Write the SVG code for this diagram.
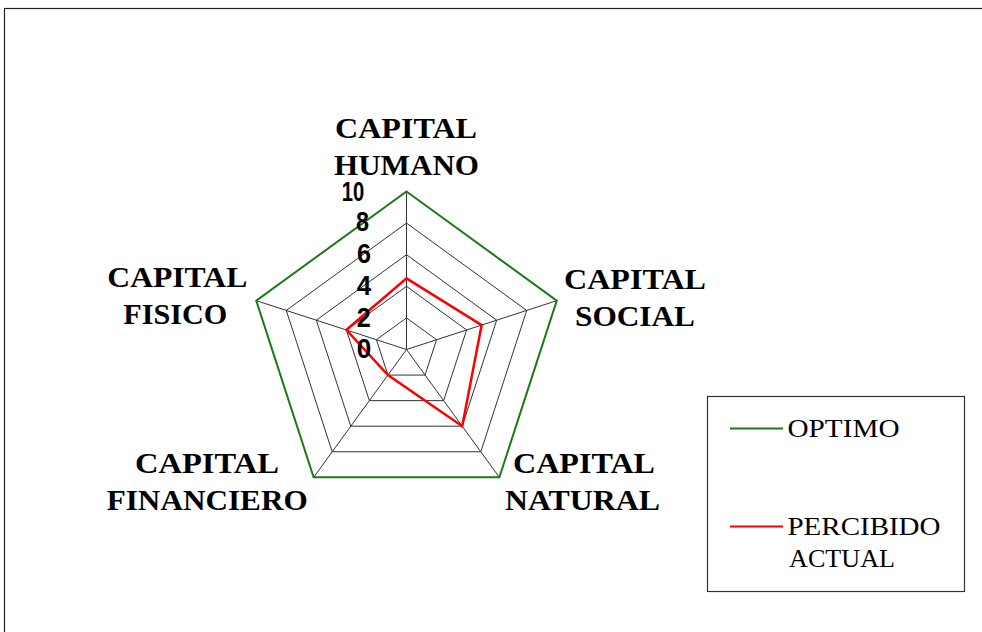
<svg xmlns="http://www.w3.org/2000/svg" width="982" height="632" viewBox="0 0 982 632">
<style>
.grid{fill:none;stroke:#333;stroke-width:1}
.lbl{font-family:"Liberation Serif","Times New Roman",serif;font-weight:bold;font-size:30px;fill:#000}
.num{font-family:"Liberation Sans",Arial,sans-serif;font-weight:bold;font-size:27px;fill:#000}
.leg{font-family:"Liberation Serif","Times New Roman",serif;font-size:26px;fill:#000}
</style>
<rect x="0" y="0" width="982" height="632" fill="#fff"/>
<rect x="4.5" y="8.5" width="990" height="640" fill="none" stroke="#222" stroke-width="1.2"/>
<g id="grid">
<polygon class="grid" points="406.5,317.9 436.55,339.73 425.07,375.07 387.93,375.07 376.45,339.73"/>
<polygon class="grid" points="406.5,286.3 466.61,329.97 443.65,400.63 369.35,400.63 346.39,329.97"/>
<polygon class="grid" points="406.5,254.7 496.66,320.2 462.22,426.2 350.78,426.2 316.34,320.2"/>
<polygon class="grid" points="406.5,223.1 526.71,310.44 480.8,451.76 332.2,451.76 286.29,310.44"/>
<path class="grid" d="M406.5,349.5L406.5,191.5M406.5,349.5L556.77,300.67M406.5,349.5L499.37,477.33M406.5,349.5L313.63,477.33M406.5,349.5L256.23,300.67"/>
</g>
<g id="connectors">
<polygon id="optimo" points="406.5,191.5 556.77,300.67 499.37,477.33 313.63,477.33 256.23,300.67" fill="none" stroke="#1a7a1a" stroke-width="2"/>
<polygon id="percibido" points="406.5,278.4 481.63,325.09 462.22,426.2 387.93,375.07 346.39,329.97" fill="none" stroke="#ff0000" stroke-width="2.5"/>
</g>
<g id="axis-numbers">
<text class="num" x="341.7" y="201" textLength="22.5" lengthAdjust="spacingAndGlyphs">10</text>
<text class="num" x="356" y="231" textLength="13" lengthAdjust="spacingAndGlyphs">8</text>
<text class="num" x="357" y="262.5" textLength="14" lengthAdjust="spacingAndGlyphs">6</text>
<text class="num" x="356.7" y="295" textLength="14.5" lengthAdjust="spacingAndGlyphs">4</text>
<text class="num" x="356.7" y="326.7" textLength="14" lengthAdjust="spacingAndGlyphs">2</text>
<text class="num" x="356.7" y="357.7" textLength="14.5" lengthAdjust="spacingAndGlyphs">0</text>
</g>
<g id="node-humano">
<text class="lbl" x="335" y="137.5" textLength="142" lengthAdjust="spacingAndGlyphs">CAPITAL</text>
<text class="lbl" x="334" y="175" textLength="145" lengthAdjust="spacingAndGlyphs">HUMANO</text>
</g>
<g id="node-social">
<text class="lbl" x="564" y="289.3" textLength="142" lengthAdjust="spacingAndGlyphs">CAPITAL</text>
<text class="lbl" x="575" y="326" textLength="120" lengthAdjust="spacingAndGlyphs">SOCIAL</text>
</g>
<g id="node-natural">
<text class="lbl" x="513" y="473" textLength="142" lengthAdjust="spacingAndGlyphs">CAPITAL</text>
<text class="lbl" x="505" y="509.5" textLength="155" lengthAdjust="spacingAndGlyphs">NATURAL</text>
</g>
<g id="node-financiero">
<text class="lbl" x="135" y="473" textLength="144" lengthAdjust="spacingAndGlyphs">CAPITAL</text>
<text class="lbl" x="106.7" y="509.5" textLength="201" lengthAdjust="spacingAndGlyphs">FINANCIERO</text>
</g>
<g id="node-fisico">
<text class="lbl" x="107.3" y="287.3" textLength="140" lengthAdjust="spacingAndGlyphs">CAPITAL</text>
<text class="lbl" x="123.3" y="324" textLength="104" lengthAdjust="spacingAndGlyphs">FISICO</text>
</g>
<g id="legend">
<rect x="707.5" y="396.5" width="257" height="195" fill="#fff" stroke="#333" stroke-width="1.2"/>
<line x1="730" y1="428.5" x2="783" y2="428.5" stroke="#1a7a1a" stroke-width="2"/>
<text class="leg" x="787.5" y="437" textLength="112" lengthAdjust="spacingAndGlyphs">OPTIMO</text>
<line x1="730" y1="526.5" x2="783" y2="526.5" stroke="#ff0000" stroke-width="2"/>
<text class="leg" x="787.5" y="535" textLength="153" lengthAdjust="spacingAndGlyphs">PERCIBIDO</text>
<text class="leg" x="789" y="567" textLength="106" lengthAdjust="spacingAndGlyphs">ACTUAL</text>
</g>
</svg>
